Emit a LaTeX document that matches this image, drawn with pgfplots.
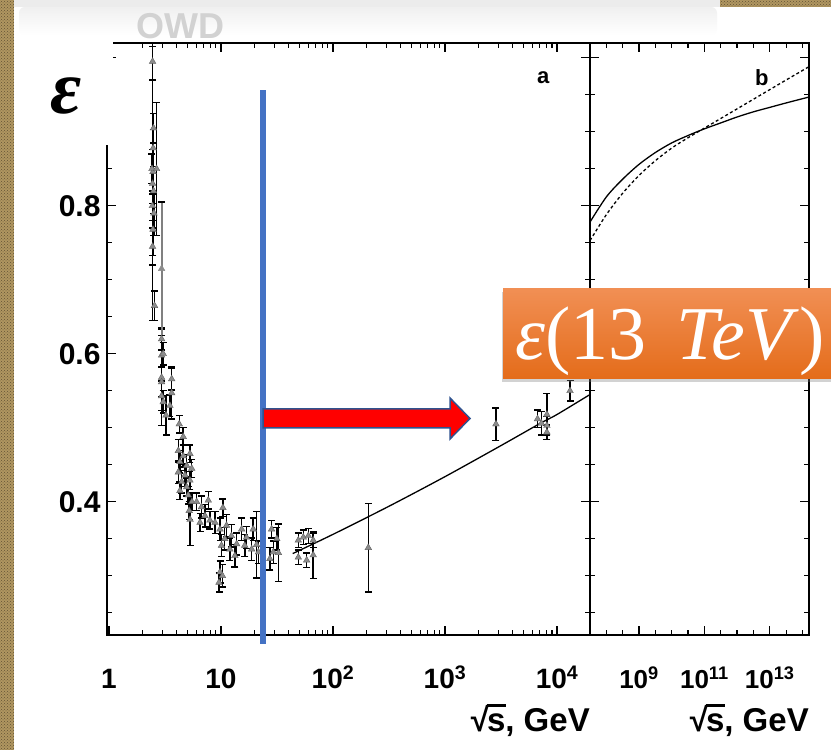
\documentclass[border=0pt]{standalone}
\usepackage{fontspec}
\setmainfont{Liberation Sans}
\newfontfamily\lserif{Liberation Serif}
\usepackage{pgfplots}
\usepackage{pgfplotstable}
\pgfplotsset{compat=1.18}
\usetikzlibrary{shadows,patterns}
\definecolor{bluel}{RGB}{68,114,196}
\definecolor{arrowedge}{RGB}{47,82,143}
\definecolor{orangetop}{RGB}{241,143,84}
\definecolor{orangebot}{RGB}{228,108,26}
\definecolor{texture}{RGB}{176,150,96}
\definecolor{ptgray}{RGB}{140,140,140}
\newcommand{\rts}{√\kern-0.06em\rlap{\rule[0.76em]{0.56em}{0.075em}}s}

\pgfplotstableread{
x y ey
2.45 0.995 0.025
2.45 0.83 0.185
2.50 0.905 0.02
2.48 0.878 0.025
2.47 0.846 0.03
2.42 0.85 0.02
2.50 0.82 0.03
2.44 0.80 0.02
2.52 0.79 0.03
2.47 0.768 0.035
2.45 0.745 0.025
2.66 0.85 0.09
2.55 0.665 0.02
2.95 0.62 0.015
2.95 0.598 0.035
2.95 0.568 0.065
2.95 0.562 0.02
2.95 0.543 0.02
3.05 0.60 0.015
3.05 0.535 0.015
3.23 0.517 0.027
3.63 0.566 0.015
3.63 0.547 0.035
3.5 0.53 0.015
4.24 0.505 0.012
4.6 0.488 0.012
4.16 0.469 0.015
4.6 0.462 0.015
5.28 0.465 0.012
4.3 0.454 0.015
4.94 0.449 0.015
5.48 0.445 0.012
4.16 0.44 0.015
4.77 0.436 0.015
5.28 0.429 0.012
4.46 0.427 0.015
4.94 0.42 0.012
4.3 0.415 0.012
5.1 0.409 0.012
5.5 0.40 0.012
5.2 0.388 0.012
5.3 0.376 0.035
6.06 0.40 0.012
6.7 0.393 0.015
7.7 0.402 0.012
7.2 0.381 0.015
7.97 0.375 0.012
6.5 0.372 0.012
10.4 0.392 0.012
8.85 0.372 0.015
9.8 0.363 0.015
11.2 0.368 0.015
10.8 0.35 0.015
12.4 0.354 0.015
10.1 0.341 0.015
12.0 0.336 0.015
13.8 0.343 0.015
13.3 0.327 0.015
9.8 0.305 0.015
9.6 0.291 0.013
10.3 0.30 0.015
15.3 0.363 0.015
16.9 0.352 0.015
19.4 0.363 0.015
16.3 0.341 0.015
18.8 0.336 0.015
20.8 0.342 0.045
21.6 0.332 0.015
28.3 0.363 0.012
31.5 0.35 0.015
29.3 0.332 0.015
32.6 0.331 0.039
27.3 0.323 0.015
49 0.348 0.01
54.3 0.352 0.01
60.2 0.354 0.01
66.6 0.348 0.01
49 0.325 0.01
58.2 0.321 0.01
66.6 0.328 0.032
206.7 0.338 0.06
2850 0.505 0.022
6700 0.512 0.012
7260 0.506 0.016
8120 0.518 0.028
8120 0.503 0.012
8120 0.494 0.01
13060 0.55 0.014
}\dataA

\pgfplotstableread{
x y ey
2.95 0.715 0.09
}\dataB

\pgfplotsset{
  panel/.style={
    scale only axis, anchor=south west, height=592pt,
    ymin=0.22, ymax=1.02,
    ytick={0.4,0.6,0.8,1.0},
    minor ytick={0.25,0.3,0.35,0.45,0.5,0.55,0.65,0.7,0.75,0.85,0.9,0.95},
    major tick length=9pt, minor tick length=5pt,
    tick style={line width=1.2pt, black},
    axis line style={line width=1.8pt},
    tick label style={font=\bfseries\fontsize{28}{28}\selectfont},
    yticklabel style={font=\bfseries\fontsize{30}{30}\selectfont, xshift=-3pt},
    xticklabel style={anchor=base, inner sep=0pt, yshift=-54pt},
    xlabel style={at={(axis description cs:1,0)}, anchor=base east, inner sep=0pt, yshift=-97pt, font=\bfseries\fontsize{33}{33}\selectfont},
    /pgf/number format/assume math mode=true,
  }
}

\begin{document}
\begin{tikzpicture}[x=1pt,y=1pt]
\useasboundingbox (0,0) rectangle (831,750);
\fill[white] (0,0) rectangle (831,750);
\fill[texture] (0,0) rectangle (14,750);
\fill[pattern=crosshatch dots, pattern color=texture!55!black] (0,0) rectangle (14,750);
\fill[gray!15] (14,743) rectangle (720,750);
\fill[texture] (720,743) rectangle (831,750);
\fill[pattern=crosshatch dots, pattern color=texture!55!black] (720,743) rectangle (831,750);
\shade[top color=gray!12, bottom color=white, rounded corners=6pt] (19,715) rectangle (717,743);
\node[text=gray!35] at (180,724) {\bfseries\fontsize{36}{36}\selectfont OWD};

\begin{axis}[panel, at={(107pt,115pt)}, width=483pt,
  xmode=log, xmin=0.96, xmax=19700,
  xtick={1,10,100,1000,10000},
  xticklabels={1,10,10\textsuperscript{2},10\textsuperscript{3},10\textsuperscript{4}},
  yticklabels={0.4,0.6,0.8,},
  xlabel={\rts, GeV},
]
\addplot[only marks, mark=triangle*, mark size=3.8pt,
  mark options={fill=ptgray, draw=ptgray!70!black, line width=0.4pt},
  error bars/.cd, y dir=both, y explicit,
  error bar style={line width=1.5pt, black},
  error mark options={rotate=90, mark size=3.5pt, line width=1.4pt, black}]
  table[x=x, y=y, y error=ey]{\dataA};
\addplot[only marks, mark=triangle*, mark size=3.8pt,
  mark options={fill=ptgray, draw=ptgray},
  error bars/.cd, y dir=both, y explicit,
  error bar style={line width=1.8pt, gray},
  error mark options={rotate=90, mark size=3.5pt, line width=1.4pt, black}]
  table[x=x, y=y, y error=ey]{\dataB};
\addplot[black, line width=1.3pt, smooth] coordinates {
  (43.65,0.330) (100,0.356) (316,0.394) (1000,0.434) (3162,0.476) (7080,0.506) (10000,0.518) (19700,0.545)};
\node[font=\bfseries\fontsize{22}{22}\selectfont] at (rel axis cs:0.903,0.941) {a};
\end{axis}

\begin{axis}[panel, at={(590pt,115pt)}, width=219pt,
  xmin=7.5, xmax=14.2,
  xtick={9,11,13},
  xticklabels={10\textsuperscript{9},10\textsuperscript{11},10\textsuperscript{13}},
  xticklabel style={font=\bfseries\fontsize{26}{26}\selectfont},
  minor xtick={8,8.5,9.5,10,10.5,11.5,12,12.5,13.5,14},
  yticklabels={},
  xlabel={\rts, GeV},
]
\addplot[black, line width=1.3pt, smooth] coordinates {
  (7.5,0.778) (8,0.812) (8.5,0.836) (9,0.856) (9.5,0.872) (10,0.885) (10.5,0.895) (11,0.904) (11.5,0.912) (12,0.92) (12.5,0.927) (13,0.933) (13.5,0.939) (14.2,0.947)};
\addplot[black, line width=1.3pt, dash pattern=on 3pt off 2.5pt, smooth] coordinates {
  (7.5,0.753) (8,0.788) (8.5,0.817) (9,0.841) (9.5,0.861) (10,0.878) (10.5,0.892) (11,0.905) (11.5,0.918) (12,0.931) (12.5,0.944) (13,0.957) (13.5,0.97) (14.2,0.988)};
\node[font=\bfseries\fontsize{22}{22}\selectfont] at (rel axis cs:0.785,0.941) {b};
\end{axis}

\fill[white] (17,605) rectangle (113,715);
\node[anchor=base west, inner sep=0pt] at (50,636) {\lserif\bfseries\itshape\fontsize{76}{76}\selectfont ε};

\draw[bluel, line width=6.5pt] (263,106) -- (263,660);
\filldraw[fill=red, draw=arrowedge, line width=1.5pt, line join=miter]
  (263,322) -- (450,322) -- (450,311) -- (470,331.5) -- (450,352) -- (450,341) -- (263,341) -- cycle;

\shade[top color=orangetop, bottom color=orangebot, drop shadow={opacity=0.35, shadow xshift=-1pt, shadow yshift=-3pt}]
  (503,371) rectangle (845,461);
\node[anchor=base west, text=white, inner sep=0pt] at (515,390)
  {\lserif\fontsize{76}{76}\selectfont\textit{ε}(13\hspace{30pt}\textit{TeV})};
\end{tikzpicture}
\end{document}
